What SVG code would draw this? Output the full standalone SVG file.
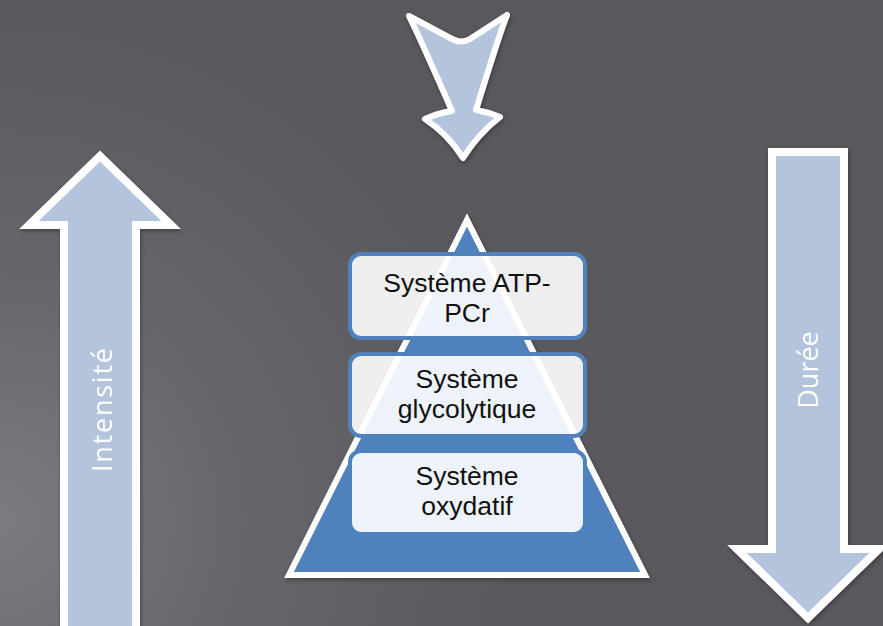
<svg xmlns="http://www.w3.org/2000/svg" width="883" height="626" viewBox="0 0 883 626">
<defs>
<radialGradient id="bg" cx="0" cy="520" r="520" gradientUnits="userSpaceOnUse">
<stop offset="0" stop-color="#7c7b80"/>
<stop offset="0.45" stop-color="#67666b"/>
<stop offset="1" stop-color="#59585d"/>
</radialGradient>
<filter id="sh" x="-20%" y="-20%" width="140%" height="140%">
<feDropShadow dx="1" dy="2" stdDeviation="2" flood-color="#000" flood-opacity="0.35"/>
</filter>
</defs>
<style>
.arrow{fill:#b4c4dc;stroke:#ffffff;stroke-width:8;stroke-linejoin:miter}
.chev{fill:#b4c4dc;stroke:#ffffff;stroke-width:6;stroke-linejoin:round}
.pyr{fill:#4f81bd;stroke:#ffffff;stroke-width:6;stroke-linejoin:miter}
.box{fill:#ffffff;fill-opacity:0.9;stroke:#4f81bd;stroke-width:4}
.lbl{font-family:"Liberation Sans",Arial,sans-serif;font-size:26.5px;fill:#111111;text-anchor:middle}
.side{font-family:"Open Sans","Noto Sans",sans-serif;font-size:27px;fill:#ffffff;text-anchor:middle}
</style>
<rect width="883" height="626" fill="url(#bg)"/>

<g id="connectors">
<g id="arrow-top" filter="url(#sh)">
<path class="chev" d="M409,16 L452,39 Q461,44 470,39 L507,15 Q500,32 476,110 Q488,112 500,117 Q478,134 463,158 Q448,134 425,119 Q438,113 452,111 Q420,38 409,16 Z"/>
</g>
<g id="arrow-intensite" filter="url(#sh)">
<path class="arrow" d="M100,156 L171,225 L136,225 L136,630 L64,630 L64,225 L29,225 Z"/>
<text class="side" transform="translate(112,410) rotate(-90)" textLength="124" lengthAdjust="spacing">Intensité</text>
</g>
<g id="arrow-duree" filter="url(#sh)">
<path class="arrow" d="M772,152 L844,152 L844,549 L879,549 L808,618 L737,549 L772,549 Z"/>
<text class="side" transform="translate(818,370) rotate(-90)">Durée</text>
</g>
</g>

<g id="pyramid" filter="url(#sh)">
<path class="pyr" d="M467,220 L645,575 L289,575 Z"/>
</g>

<g id="node-atp">
<rect class="box" x="350" y="254" width="235" height="84" rx="11"/>
<text class="lbl" x="467" y="292">Système ATP-<tspan x="467" dy="30">PCr</tspan></text>
</g>
<g id="node-glyco">
<rect class="box" x="350" y="354" width="235" height="82" rx="11"/>
<text class="lbl" x="467" y="388">Système<tspan x="467" dy="30">glycolytique</tspan></text>
</g>
<g id="node-oxy">
<rect class="box" x="350" y="451" width="235" height="83" rx="11"/>
<text class="lbl" x="467" y="485">Système<tspan x="467" dy="30">oxydatif</tspan></text>
</g>
</svg>
